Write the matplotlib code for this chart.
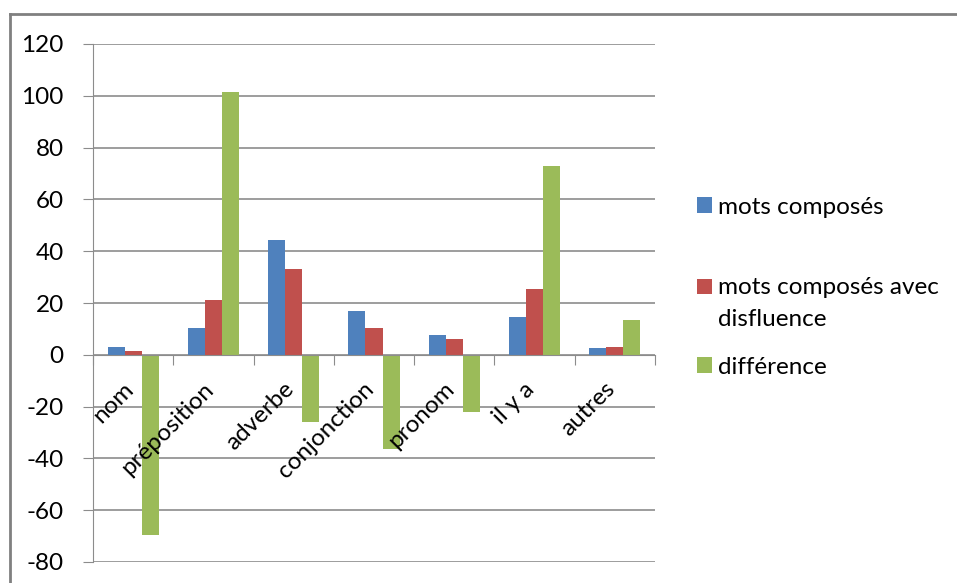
import numpy as np
from matplotlib import pyplot as plt
from matplotlib.lines import Line2D
from matplotlib.transforms import ScaledTranslation

categories = ['nom', 'préposition', 'adverbe', 'conjonction', 'pronom', 'il y a', 'autres']
mots_composes = [3.2, 10.5, 44.4, 17, 7.7, 14.5, 2.6]
mots_disfluence = [1.3, 21, 33.1, 10.5, 6, 25.4, 3.2]
difference = [-69.5, 101.3, -26, -36.4, -22.1, 73, 13.5]

series = [
    ('mots composés', mots_composes, '#4F81BD'),
    ('mots composés avec\ndisfluence', mots_disfluence, '#C0504D'),
    ('différence', difference, '#9BBB59'),
]
# vertical centre (pixels from top) of each legend entry, like Excel spreads them
legend_y = [207, 303.5, 367]

plt.rcParams['font.family'] = ['Lato', 'DejaVu Sans']
plt.rcParams['axes.unicode_minus'] = False

fig = plt.figure(figsize=(9.57, 5.83), dpi=100)
ax = fig.add_axes([93 / 957, 1 - 562 / 583, 562 / 957, 518 / 583])

x = np.arange(len(categories))
w = 0.212
bars = []
for i, (name, vals, color) in enumerate(series):
    bars.append(ax.bar(x + (i - 1) * w, vals, width=w, color=color, label=name, zorder=3))

ax.set_xlim(-0.5, len(categories) - 0.5)
ax.set_ylim(-80, 120)
ax.set_yticks(range(-80, 121, 20))
ax.yaxis.grid(True, color='#8c8c8c', linewidth=1.2)
ax.yaxis.set_zorder(1)
ax.xaxis.set_zorder(5)

for s in ['top', 'right']:
    ax.spines[s].set_visible(False)
ax.spines['bottom'].set_position(('data', 0))
ax.spines['bottom'].set_color('#8c8c8c')
ax.spines['left'].set_color('#8c8c8c')
ax.spines['bottom'].set_zorder(4)

ax.set_xticks(np.arange(-0.5, len(categories)), minor=False)
ax.set_xticklabels([])
ax.set_xticks(x, minor=True)
ax.set_xticklabels(categories, minor=True, rotation=45, ha='right', va='top',
                   rotation_mode='default', fontsize=17.5)
ax.tick_params(axis='x', which='minor', length=0, pad=17)
ax.tick_params(axis='x', which='major', length=7, color='#8c8c8c', direction='out')
ax.tick_params(axis='y', length=7, color='#8c8c8c', labelsize=17.5, pad=14)
shift = ScaledTranslation(4 / 100, 0, fig.dpi_scale_trans)
for lbl in ax.get_xticklabels(minor=True):
    lbl.set_transform(lbl.get_transform() + shift)

# one legend per entry so the uneven Excel spacing can be kept
for (name, _, _), b, yc in zip(series, bars, legend_y):
    leg = fig.legend([b], [name], loc='center left', bbox_to_anchor=(697 / 957, 1 - yc / 583),
                     frameon=False, fontsize=17.5, borderpad=0, borderaxespad=0,
                     handlelength=0.6, handleheight=0.6, handletextpad=0.25)
    for t in leg.get_texts():
        t.set_linespacing(1.7)
    if '\n' in name:
        h = leg.legend_handles[0]
        h.set_y(h.get_y() + 12)

# outer chart border (cropped on right and bottom)
fig.add_artist(Line2D([10 / 957, 10 / 957], [0, 1 - 14 / 583], transform=fig.transFigure,
                      color='#808080', linewidth=2))
fig.add_artist(Line2D([10 / 957, 1], [1 - 14 / 583, 1 - 14 / 583], transform=fig.transFigure,
                      color='#808080', linewidth=2))

fig.savefig('out.png', dpi=100)
